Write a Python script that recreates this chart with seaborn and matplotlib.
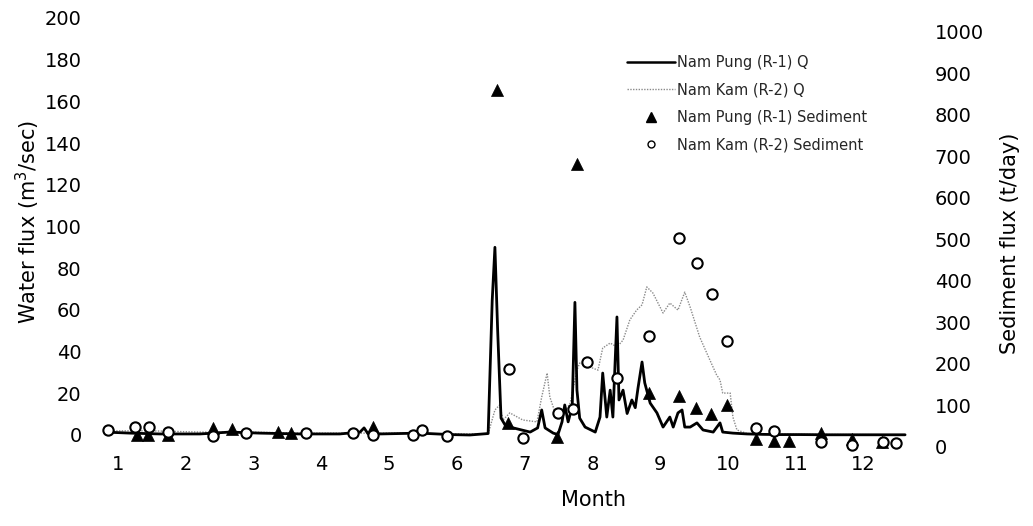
import matplotlib
matplotlib.use("Agg")
import matplotlib.pyplot as plt
import seaborn as sns
import pandas as pd
from matplotlib.lines import Line2D

# ---------------- data ----------------
month_ticks = list(range(1, 13))
water_ticks = list(range(0, 201, 20))
sediment_ticks = list(range(0, 1001, 100))

pung_q_month = [0.81, 1.18, 1.62, 2.21, 2.65, 3.09, 3.68, 4.27, 4.57, 4.63,
                4.69, 4.86, 5.45, 5.90, 6.19, 6.46, 6.52, 6.56, 6.60, 6.65,
                6.71, 6.83, 7.08, 7.19, 7.25, 7.30, 7.42, 7.49, 7.55, 7.59,
                7.64, 7.70, 7.74, 7.77, 7.81, 7.89, 8.04, 8.11, 8.15, 8.21,
                8.26, 8.30, 8.36, 8.39, 8.45, 8.51, 8.58, 8.63, 8.67, 8.73,
                8.77, 8.85, 8.95, 9.04, 9.14, 9.19, 9.26, 9.32, 9.36, 9.44,
                9.54, 9.63, 9.78, 9.88, 9.92, 10.07, 10.28, 10.51, 10.76, 11.06,
                11.50, 11.94, 12.24, 12.61]
pung_q_flux = [1.4, 0.9, 0.5, 0.5, 1.4, 0.9, 0.5, 0.5, 1.4, 3.4,
               0.5, 0.5, 0.9, 0.2, 0.0, 0.7, 64.5, 90, 50.5, 8.1,
               4.8, 3.4, 1.4, 3.4, 12.0, 3.4, 0.9, 0.2, 6.3, 14.4,
               6.3, 13.5, 63.6, 21.5, 8.1, 3.8, 1.4, 8.6, 29.7, 8.6,
               21.5, 8.6, 56.6, 16.8, 21.5, 10.3, 16.8, 13.1, 22.4, 35.0,
               25.0, 15.3, 10.6, 3.8, 8.6, 3.8, 10.6, 12.0, 3.8, 3.8,
               5.8, 2.4, 1.4, 5.8, 1.4, 0.9, 0.5, 0.3, 0.2, 0.2,
               0.1, 0.1, 0.1, 0.1]

kam_q_month = [0.81, 1.47, 2.21, 2.95, 3.68, 4.42, 5.16, 5.90, 6.46, 6.56,
               6.63, 6.68, 6.78, 6.97, 7.18, 7.25, 7.33, 7.37, 7.45, 7.56,
               7.67, 7.77, 7.81, 7.96, 8.08, 8.15, 8.26, 8.36, 8.45, 8.55,
               8.65, 8.73, 8.80, 8.89, 9.04, 9.14, 9.26, 9.36, 9.44, 9.58,
               9.73, 9.83, 9.88, 9.92, 10.03, 10.07, 10.13, 10.28, 10.62, 11.06,
               11.80, 12.61]
kam_q_flux = [2.0, 2.0, 1.4, 1.4, 0.9, 0.9, 0.9, 0.5, 0.5, 12.0,
              14.4, 7.2, 10.6, 7.2, 6.3, 18.2, 29.7, 18.2, 10.6, 9.6,
              15.3, 31.1, 34.5, 32.6, 31.1, 41.7, 44.1, 42.2, 45.5, 55.2,
              59.9, 62.4, 71.0, 68.1, 58.5, 63.3, 59.9, 68.5, 61.3, 47.0,
              36.0, 28.8, 26.4, 20.1, 20.1, 8.6, 2.4, 0.7, 0.5, 0.3,
              0.2, 0.1]

pung_sed_month = [1.28, 1.44, 1.74, 2.40, 2.68, 3.36, 3.55, 4.76, 6.59, 6.75,
                  7.47, 7.77, 8.83, 9.27, 9.53, 9.75, 9.98, 10.41, 10.68, 10.90,
                  11.37, 11.83, 12.27]
pung_sed_flux = [29, 29, 29, 46, 43, 36, 34, 48, 860, 58,
                 24, 682, 130, 123, 94, 80, 101, 19, 14, 14,
                 34, 19, 12]

kam_sed_month = [0.85, 1.25, 1.46, 1.74, 2.40, 2.89, 3.77, 4.47, 4.76, 5.35,
                 5.48, 5.85, 6.77, 6.97, 7.49, 7.71, 7.92, 8.36, 8.83, 9.27,
                 9.54, 9.76, 9.98, 10.41, 10.68, 11.37, 11.83, 12.28, 12.47]
kam_sed_flux = [41, 48, 48, 36, 27, 34, 34, 34, 29, 29,
                41, 27, 188, 22, 82, 92, 205, 166, 267, 504,
                443, 369, 255, 46, 39, 12, 5, 12, 10]

labels = ["Nam Pung (R-1) Q", "Nam Kam (R-2) Q",
          "Nam Pung (R-1) Sediment", "Nam Kam (R-2) Sediment"]

# ---------------- figure ----------------
sns.set_theme(style="white")
plt.rcParams["font.family"] = ["DejaVu Sans"]

fig = plt.figure(figsize=(10.33, 5.26), dpi=100)
ax = fig.add_axes([0.0871, 0.1407, 0.8083, 0.8403])
ax2 = ax.twinx()

pung_df = pd.DataFrame({"month": pung_q_month, "flux": pung_q_flux})
kam_df = pd.DataFrame({"month": kam_q_month, "flux": kam_q_flux})
sns.lineplot(data=kam_df, x="month", y="flux", ax=ax, color="#8a8a8a",
             linewidth=1.0, linestyle=(0, (1, 1)), sort=False, zorder=2)
sns.lineplot(data=pung_df, x="month", y="flux", ax=ax, color="black",
             linewidth=2.0, sort=False, zorder=3)

ps_df = pd.DataFrame({"month": pung_sed_month, "flux": pung_sed_flux})
ks_df = pd.DataFrame({"month": kam_sed_month, "flux": kam_sed_flux})
sns.scatterplot(data=ps_df, x="month", y="flux", ax=ax2, marker="^",
                s=75, color="black", edgecolor="black", linewidth=0.5, zorder=3)
sns.scatterplot(data=ks_df, x="month", y="flux", ax=ax2, marker="o",
                s=55, facecolor="white", edgecolor="black", linewidth=1.5, zorder=4)

ax.set_xlim(0.587, 12.903)
ax.set_ylim(-8.15, 203.8)
ax2.set_ylim(-12.05, 1053.0)

ax.set_xticks(month_ticks)
ax.set_xticklabels([str(m) for m in month_ticks])
ax.set_yticks(water_ticks)
ax.set_yticklabels([str(v) for v in water_ticks])
ax2.set_yticks(sediment_ticks)
ax2.set_yticklabels([str(v) for v in sediment_ticks])

ax.tick_params(axis="x", length=0, pad=2, labelsize=14, colors="black")
ax.tick_params(axis="y", length=0, pad=6, labelsize=14, colors="black")
ax2.tick_params(axis="y", length=0, pad=7, labelsize=14, colors="black")

for a in (ax, ax2):
    for s in a.spines.values():
        s.set_visible(False)
    a.grid(False)
ax.patch.set_visible(False)

ax.set_xlabel("Month", fontsize=15, color="black")
ax.set_ylabel("Water flux (m$^3$/sec)", fontsize=15, color="black")
ax2.set_ylabel("Sediment flux (t/day)", fontsize=15, color="black", rotation=90)
ax.xaxis.set_label_coords(0.6036, -0.1086)
ax.xaxis.label.set_va("center")
ax.yaxis.set_label_coords(-0.0743, 0.520)
ax.yaxis.label.set_va("center")
ax2.yaxis.set_label_coords(1.1018, 0.473)
ax2.yaxis.label.set_va("center")

handles = [
    Line2D([], [], color="black", linewidth=1.8),
    Line2D([], [], color="#8a8a8a", linewidth=1.0, linestyle=(0, (1, 1))),
    Line2D([], [], color="black", marker="^", linestyle="none", markersize=7),
    Line2D([], [], color="black", marker="o", linestyle="none", markersize=5,
           markerfacecolor="white", markeredgewidth=1.0),
]
leg = ax2.legend(handles, labels, loc="upper left",
                 bbox_to_anchor=(627 / 1033, 1 - 55 / 526),
                 bbox_transform=fig.transFigure, frameon=False,
                 fontsize=10.5, handlelength=3.3, handletextpad=0.15,
                 labelspacing=0.85, borderpad=0, borderaxespad=0)

fig.savefig("out.png", dpi=100)
